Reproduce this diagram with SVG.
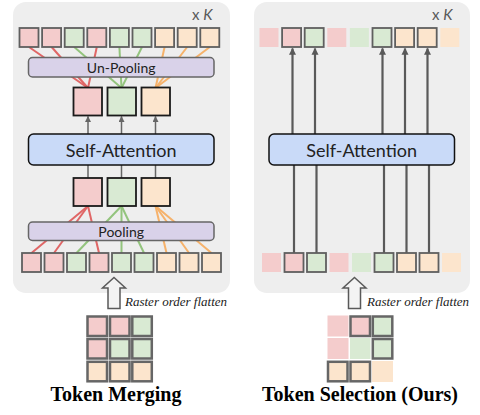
<svg xmlns="http://www.w3.org/2000/svg" width="480" height="415" viewBox="0 0 480 415">
<defs>
<style>
.panel{fill:#eeeeee;stroke:none}
.pk{fill:#f4cccc}.gr{fill:#d9ead3}.or{fill:#fce5cd}
.tk{stroke:#5f5f5f;stroke-width:1.8}
.mid{stroke:#1a1a1a;stroke-width:1.8}
.gtk{stroke:#666;stroke-width:2.5}
.bar{fill:#d9d2e9;stroke:#666;stroke-width:1.5}
.sa{fill:#c9daf8;stroke:#111;stroke-width:1.5}
.lbl{font-family:Lato,"Open Sans",sans-serif;fill:#222;text-anchor:middle}
.xk{font-family:Lato,"Open Sans",sans-serif;fill:#595959;font-size:15px}
.rof{font-family:"Liberation Serif",serif;font-style:italic;font-size:13px;fill:#222}
.ttl{font-family:"Liberation Serif",serif;font-weight:bold;font-size:20px;fill:#000;text-anchor:middle}
.lp{stroke:#e06666;stroke-width:2;fill:none}
.lg{stroke:#93c47d;stroke-width:2;fill:none}
.lo{stroke:#f6b26b;stroke-width:2;fill:none}
.ar{stroke:#666;stroke-width:1.5;fill:none}
.ar2{stroke:#595959;stroke-width:2.2;fill:none}
.hollow{fill:#f3f3f3;stroke:#595959;stroke-width:1.5;stroke-linejoin:miter}
</style>
<marker id="ah" viewBox="0 0 10 10" refX="9" refY="5" markerWidth="4" markerHeight="4" orient="auto">
<path d="M0,0 L10,5 L0,10 z" fill="#666"/>
</marker>
<marker id="ah2" viewBox="0 0 10 10" refX="9" refY="5" markerWidth="3.2" markerHeight="3.2" orient="auto">
<path d="M0,0 L10,5 L0,10 z" fill="#595959"/>
</marker>
</defs>

<g id="panel-left"><rect class="panel" x="13" y="2" width="217" height="291" rx="13"/></g>
<g id="panel-right"><rect class="panel" x="254" y="2" width="216" height="291" rx="13"/></g>

<g id="connectors">
<line class="lp" x1="29" y1="47" x2="88" y2="88"/>
<line class="lp" x1="51.6" y1="47" x2="88" y2="88"/>
<line class="lp" x1="96.8" y1="47" x2="88" y2="88"/>
<line class="lg" x1="74.2" y1="47" x2="121.5" y2="88"/>
<line class="lg" x1="119.4" y1="47" x2="121.5" y2="88"/>
<line class="lg" x1="142" y1="47" x2="121.5" y2="88"/>
<line class="lo" x1="164.6" y1="47" x2="155.5" y2="88"/>
<line class="lo" x1="187.2" y1="47" x2="155.5" y2="88"/>
<line class="lo" x1="209.8" y1="47" x2="155.5" y2="88"/>
<line class="lp" x1="31.5" y1="253" x2="88" y2="206"/>
<line class="lp" x1="54" y1="253" x2="88" y2="206"/>
<line class="lp" x1="99" y1="253" x2="88" y2="206"/>
<line class="lg" x1="76.5" y1="253" x2="121.5" y2="206"/>
<line class="lg" x1="121.5" y1="253" x2="121.5" y2="206"/>
<line class="lg" x1="144" y1="253" x2="121.5" y2="206"/>
<line class="lo" x1="166.5" y1="253" x2="155.5" y2="206"/>
<line class="lo" x1="189" y1="253" x2="155.5" y2="206"/>
<line class="lo" x1="211.5" y1="253" x2="155.5" y2="206"/>
<line class="ar" x1="88" y1="134" x2="88" y2="116.5" marker-end="url(#ah)"/>
<line class="ar" x1="121.5" y1="134" x2="121.5" y2="116.5" marker-end="url(#ah)"/>
<line class="ar" x1="155.5" y1="134" x2="155.5" y2="116.5" marker-end="url(#ah)"/>
<line class="ar" x1="88" y1="165" x2="88" y2="178"/>
<line class="ar" x1="121.5" y1="165" x2="121.5" y2="178"/>
<line class="ar" x1="155.5" y1="165" x2="155.5" y2="178"/>
<line class="ar2" x1="292.5" y1="134" x2="292.5" y2="48.5" marker-end="url(#ah2)"/>
<line class="ar2" x1="315" y1="134" x2="315" y2="48.5" marker-end="url(#ah2)"/>
<line class="ar2" x1="382.5" y1="134" x2="382.5" y2="48.5" marker-end="url(#ah2)"/>
<line class="ar2" x1="405" y1="134" x2="405" y2="48.5" marker-end="url(#ah2)"/>
<line class="ar2" x1="427.5" y1="134" x2="427.5" y2="48.5" marker-end="url(#ah2)"/>
<line class="ar2" x1="294" y1="165" x2="294" y2="253"/>
<line class="ar2" x1="316.5" y1="165" x2="316.5" y2="253"/>
<line class="ar2" x1="384" y1="165" x2="384" y2="253"/>
<line class="ar2" x1="406.5" y1="165" x2="406.5" y2="253"/>
<line class="ar2" x1="429" y1="165" x2="429" y2="253"/>
</g>

<text class="xk" x="192" y="20">x <tspan font-style="italic">K</tspan></text>
<text class="xk" x="432" y="20">x <tspan font-style="italic">K</tspan></text>

<g id="left-top-tokens">
<rect class="pk tk" x="19.5" y="28" width="19" height="19"/>
<rect class="pk tk" x="42.1" y="28" width="19" height="19"/>
<rect class="gr tk" x="64.7" y="28" width="19" height="19"/>
<rect class="pk tk" x="87.3" y="28" width="19" height="19"/>
<rect class="gr tk" x="109.9" y="28" width="19" height="19"/>
<rect class="gr tk" x="132.5" y="28" width="19" height="19"/>
<rect class="or tk" x="155.1" y="28" width="19" height="19"/>
<rect class="or tk" x="177.7" y="28" width="19" height="19"/>
<rect class="or tk" x="200.3" y="28" width="19" height="19"/>
</g>

<g id="unpooling"><rect class="bar" x="28.5" y="57.5" width="185.5" height="19.5" rx="4"/><text class="lbl" x="121.2" y="72.5" font-size="14">Un-Pooling</text></g>

<g id="left-merged-upper">
<rect class="pk mid" x="73.5" y="87.5" width="28.5" height="28"/>
<rect class="gr mid" x="107.5" y="87.5" width="28.5" height="28"/>
<rect class="or mid" x="141.5" y="87.5" width="28.5" height="28"/>
</g>

<g id="left-sa"><rect class="sa" x="28.5" y="134" width="185.5" height="31" rx="5"/><text class="lbl" x="121.2" y="156.5" font-size="18">Self-Attention</text></g>

<g id="left-merged-lower">
<rect class="pk mid" x="73.5" y="178" width="28.5" height="28"/>
<rect class="gr mid" x="107.5" y="178" width="28.5" height="28"/>
<rect class="or mid" x="141.5" y="178" width="28.5" height="28"/>
</g>

<g id="pooling"><rect class="bar" x="28.5" y="222" width="185.5" height="18.5" rx="4"/><text class="lbl" x="121.2" y="236.5" font-size="14">Pooling</text></g>

<g id="left-bottom-tokens">
<rect class="pk tk" x="22" y="253" width="19" height="19"/>
<rect class="pk tk" x="44.5" y="253" width="19" height="19"/>
<rect class="gr tk" x="67" y="253" width="19" height="19"/>
<rect class="pk tk" x="89.5" y="253" width="19" height="19"/>
<rect class="gr tk" x="112" y="253" width="19" height="19"/>
<rect class="gr tk" x="134.5" y="253" width="19" height="19"/>
<rect class="or tk" x="157" y="253" width="19" height="19"/>
<rect class="or tk" x="179.5" y="253" width="19" height="19"/>
<rect class="or tk" x="202" y="253" width="19" height="19"/>
</g>

<g id="right-top-tokens">
<rect class="pk" x="259.5" y="28" width="19" height="19"/>
<rect class="pk tk" x="282.1" y="28" width="19" height="19"/>
<rect class="gr tk" x="304.7" y="28" width="19" height="19"/>
<rect class="pk" x="327.3" y="28" width="19" height="19"/>
<rect class="gr" x="349.9" y="28" width="19" height="19"/>
<rect class="gr tk" x="372.5" y="28" width="19" height="19"/>
<rect class="or tk" x="395.1" y="28" width="19" height="19"/>
<rect class="or tk" x="417.7" y="28" width="19" height="19"/>
<rect class="or" x="440.3" y="28" width="19" height="19"/>
</g>

<g id="right-sa"><rect class="sa" x="269" y="134" width="185.5" height="31" rx="5"/><text class="lbl" x="361.7" y="156.5" font-size="18">Self-Attention</text></g>

<g id="right-bottom-tokens">
<rect class="pk" x="262" y="253" width="19" height="19"/>
<rect class="pk tk" x="284.5" y="253" width="19" height="19"/>
<rect class="gr tk" x="307" y="253" width="19" height="19"/>
<rect class="pk" x="329.5" y="253" width="19" height="19"/>
<rect class="gr" x="352" y="253" width="19" height="19"/>
<rect class="gr tk" x="374.5" y="253" width="19" height="19"/>
<rect class="or tk" x="397" y="253" width="19" height="19"/>
<rect class="or tk" x="419.5" y="253" width="19" height="19"/>
<rect class="or" x="442" y="253" width="19" height="19"/>
</g>

<g id="left-flatten">
<polygon class="hollow" points="114,277.5 125.5,288 120,288 120,308.5 108,308.5 108,288 102.5,288"/>
<text class="rof" x="125" y="305.5">Raster order flatten</text>
</g>
<g id="right-flatten">
<polygon class="hollow" points="354.5,277.5 366,288 360.5,288 360.5,308.5 348.5,308.5 348.5,288 343,288"/>
<text class="rof" x="367" y="305.5">Raster order flatten</text>
</g>

<g id="left-grid">
<rect class="pk gtk" x="87.5" y="316.5" width="19.5" height="19.5"/>
<rect class="pk gtk" x="110" y="316.5" width="19.5" height="19.5"/>
<rect class="gr gtk" x="132.3" y="316.5" width="19.5" height="19.5"/>
<rect class="pk gtk" x="87.5" y="339" width="19.5" height="19.5"/>
<rect class="gr gtk" x="110" y="339" width="19.5" height="19.5"/>
<rect class="gr gtk" x="132.3" y="339" width="19.5" height="19.5"/>
<rect class="or gtk" x="87.5" y="361.8" width="19.5" height="19.5"/>
<rect class="or gtk" x="110" y="361.8" width="19.5" height="19.5"/>
<rect class="or gtk" x="132.3" y="361.8" width="19.5" height="19.5"/>
</g>

<g id="right-grid">
<rect class="pk" x="327.5" y="315.5" width="21" height="21"/>
<rect class="pk gtk" x="350.5" y="316.5" width="19.5" height="19.5"/>
<rect class="gr gtk" x="372.8" y="316.5" width="19.5" height="19.5"/>
<rect class="pk" x="327.5" y="338" width="21" height="21"/>
<rect class="gr" x="350" y="338" width="20.5" height="21"/>
<rect class="gr gtk" x="372.8" y="339" width="19.5" height="19.5"/>
<rect class="or gtk" x="328" y="361.8" width="19.5" height="19.5"/>
<rect class="or gtk" x="350.5" y="361.8" width="19.5" height="19.5"/>
<rect class="or" x="372" y="361" width="21" height="21"/>
</g>

<text class="ttl" x="116" y="400.5">Token Merging</text>
<text class="ttl" x="360" y="400.5">Token Selection (Ours)</text>
</svg>
